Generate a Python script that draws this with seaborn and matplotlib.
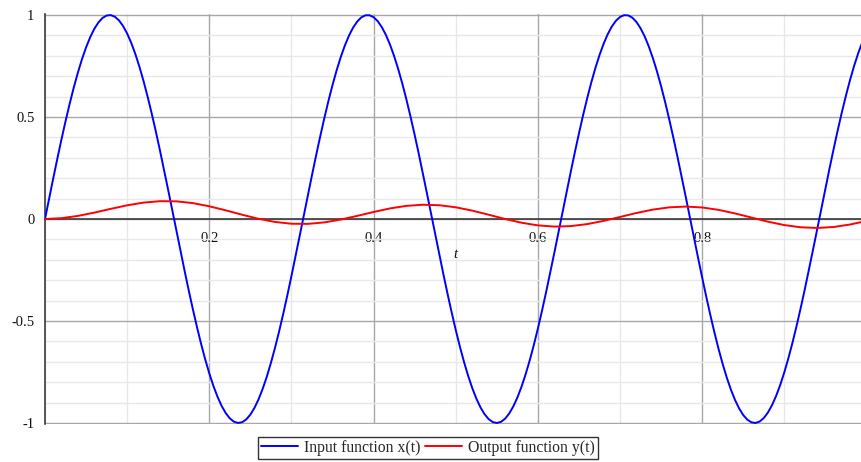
import matplotlib
matplotlib.use("Agg")
import matplotlib.pyplot as plt
import seaborn as sns
import pandas as pd
from matplotlib.ticker import FixedLocator, FixedFormatter, MultipleLocator

# Input signal x(t), sampled every 0.005 (rows of 0.05)
t_input = [round(0.005 * k, 3) for k in range(201)]
x_input = [
    0.0000, 0.0998, 0.1987, 0.2955, 0.3894, 0.4794, 0.5646, 0.6442, 0.7174, 0.7833,
    0.8415, 0.8912, 0.9320, 0.9636, 0.9854, 0.9975, 0.9996, 0.9917, 0.9738, 0.9463,
    0.9093, 0.8632, 0.8085, 0.7457, 0.6755, 0.5985, 0.5155, 0.4274, 0.3350, 0.2392,
    0.1411, 0.0416, -0.0584, -0.1577, -0.2555, -0.3508, -0.4425, -0.5298, -0.6119, -0.6878,
    -0.7568, -0.8183, -0.8716, -0.9162, -0.9516, -0.9775, -0.9937, -0.9999, -0.9962, -0.9825,
    -0.9589, -0.9258, -0.8835, -0.8323, -0.7728, -0.7055, -0.6313, -0.5507, -0.4646, -0.3739,
    -0.2794, -0.1822, -0.0831, 0.0168, 0.1165, 0.2151, 0.3115, 0.4048, 0.4941, 0.5784,
    0.6570, 0.7290, 0.7937, 0.8504, 0.8987, 0.9380, 0.9679, 0.9882, 0.9985, 0.9989,
    0.9894, 0.9699, 0.9407, 0.9022, 0.8546, 0.7985, 0.7344, 0.6630, 0.5849, 0.5010,
    0.4121, 0.3191, 0.2229, 0.1245, 0.0248, -0.0752, -0.1743, -0.2718, -0.3665, -0.4575,
    -0.5440, -0.6251, -0.6999, -0.7677, -0.8278, -0.8797, -0.9228, -0.9566, -0.9809, -0.9954,
    -1.0000, -0.9946, -0.9792, -0.9540, -0.9193, -0.8755, -0.8228, -0.7620, -0.6935, -0.6182,
    -0.5366, -0.4496, -0.3582, -0.2632, -0.1656, -0.0663, 0.0336, 0.1332, 0.2315, 0.3275,
    0.4202, 0.5087, 0.5921, 0.6696, 0.7404, 0.8038, 0.8591, 0.9060, 0.9437, 0.9720,
    0.9906, 0.9993, 0.9980, 0.9868, 0.9657, 0.9349, 0.8948, 0.8458, 0.7883, 0.7229,
    0.6503, 0.5712, 0.4864, 0.3967, 0.3031, 0.2065, 0.1078, 0.0080, -0.0919, -0.1909,
    -0.2879, -0.3821, -0.4724, -0.5580, -0.6381, -0.7118, -0.7784, -0.8372, -0.8875, -0.9292,
    -0.9614, -0.9841, -0.9969, -0.9998, -0.9927, -0.9756, -0.9488, -0.9126, -0.8672, -0.8131,
    -0.7510, -0.6813, -0.6048, -0.5223, -0.4345, -0.3425, -0.2470, -0.1490, -0.0495, 0.0504,
    0.1499, 0.2478, 0.3433, 0.4354, 0.5231, 0.6055, 0.6820, 0.7516, 0.8137, 0.8677,
    0.9129,
]

# Output signal y(t), sampled every 0.02
t_output = [round(0.02 * k, 2) for k in range(51)]
y_output = [
    0.0000, 0.0040, 0.0151, 0.0313, 0.0497, 0.0671, 0.0804, 0.0874, 0.0866, 0.0779,
    0.0624, 0.0425, 0.0209, 0.0009, -0.0145, -0.0232, -0.0239, -0.0166, -0.0028, 0.0152,
    0.0345, 0.0519, 0.0644, 0.0699, 0.0675, 0.0574, 0.0411, 0.0210, 0.0001, -0.0182,
    -0.0313, -0.0371, -0.0349, -0.0250, -0.0092, 0.0100, 0.0295, 0.0461, 0.0572, 0.0609,
    0.0565, 0.0447, 0.0273, 0.0070, -0.0131, -0.0298, -0.0407, -0.0439, -0.0391, -0.0270,
    -0.0096,
]

series_labels = ["Input function x(t)", "Output function y(t)"]
x_tick_values = [0.2, 0.4, 0.6, 0.8]
x_tick_labels = ["0.2", "0.4", "0.6", "0.8"]
y_tick_values = [-1, -0.5, 0, 0.5, 1]
y_tick_labels = ["-1", "-0.5", "0", "0.5", "1"]
axis_label = "t"

sns.set_style("white")
plt.rcParams["font.family"] = ["Liberation Serif", "DejaVu Serif"]

W, H = 862, 462
fig = plt.figure(figsize=(W / 100, H / 100), dpi=100)
ax = fig.add_axes([45 / W, 1 - 424 / H, (W - 45) / W, 410 / H])

df_in = pd.DataFrame({"t": t_input, "v": x_input})
df_out = pd.DataFrame({"t": t_output, "v": y_output})

sns.lineplot(data=df_in, x="t", y="v", ax=ax, color="#0000ff", linewidth=1.4,
             label=series_labels[0], zorder=5)
sns.lineplot(data=df_out, x="t", y="v", ax=ax, color="#ff0000", linewidth=1.4,
             label=series_labels[1], zorder=6)

ax.set_xlim(0, 817 / 821.5)
ax.set_ylim(-1.005, 1.005)

# Axes cross at the origin
for side in ["top", "right"]:
    ax.spines[side].set_visible(False)
ax.spines["bottom"].set_position(("data", 0))
ax.spines["left"].set_position(("data", 0))
for side in ["bottom", "left"]:
    ax.spines[side].set_color("#3a3a3a")
    ax.spines[side].set_linewidth(1.2)
    ax.spines[side].set_zorder(4)

ax.xaxis.set_major_locator(FixedLocator(x_tick_values))
ax.xaxis.set_major_formatter(FixedFormatter(x_tick_labels))
ax.xaxis.set_minor_locator(MultipleLocator(0.1))
ax.yaxis.set_major_locator(FixedLocator(y_tick_values))
ax.yaxis.set_major_formatter(FixedFormatter(y_tick_labels))
ax.yaxis.set_minor_locator(MultipleLocator(0.1))

ax.tick_params(axis="x", which="both", direction="out", length=4, width=1,
               color="#3a3a3a", labelsize=10.5, pad=5, labelcolor="#111111")
ax.tick_params(axis="y", which="major", direction="out", length=6, width=1,
               color="#3a3a3a", labelsize=10.5, pad=1.5, labelcolor="#111111")
ax.tick_params(axis="y", which="minor", direction="out", length=3, width=1,
               color="#3a3a3a")

ax.grid(which="major", color="#a8a8a8", linewidth=1.0, zorder=1)
ax.grid(which="minor", color="#e8e8e8", linewidth=1.0, zorder=0)
ax.set_axisbelow(True)
ax.set_xlabel("")
ax.set_ylabel("")

ax.text(0.5, -0.172, axis_label, style="italic", fontsize=10.5,
        ha="center", va="center", color="#111111")

handles, labels = ax.get_legend_handles_labels()
ax.legend_.remove()
leg = fig.legend(handles, labels, loc="lower center", bbox_to_anchor=(0.4965, 3 / H),
                 ncol=2, frameon=True, fancybox=False, edgecolor="#000000",
                 fontsize=11.3, handlelength=2.35, handletextpad=0.4,
                 columnspacing=0.25, borderpad=0.2, borderaxespad=0.0)
leg.get_frame().set_linewidth(1.0)

fig.savefig("out.png", dpi=100)
